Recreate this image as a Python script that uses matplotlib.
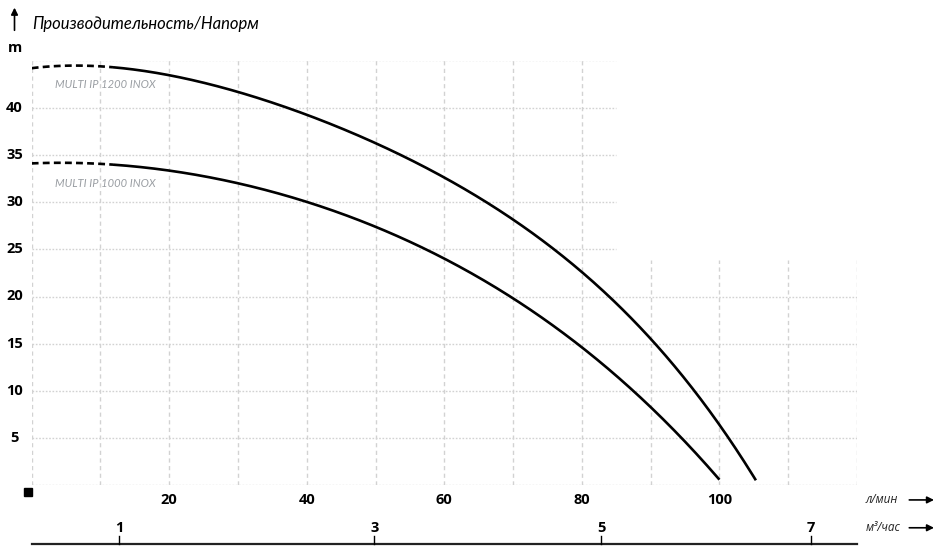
import numpy as np
import matplotlib.pyplot as plt

# flow, l/min  /  head, m
flow_1200 = [0, 10, 20, 30, 40, 50, 60, 70, 80, 90, 100, 105.3]
head_1200 = [44.2, 44.0, 43.4, 41.7, 39.6, 36.4, 32.5, 27.8, 22.3, 15.8, 7.0, 0.5]
flow_1000 = [0, 10, 20, 30, 40, 50, 60, 70, 80, 90, 100]
head_1000 = [34.1, 34.0, 33.4, 32.0, 30.0, 27.4, 23.9, 19.8, 14.9, 8.0, 0.6]
dash_end = 12  # dashed section of each curve ends here

x_ticks = [20, 40, 60, 80, 100]
y_ticks = [5, 10, 15, 20, 25, 30, 35, 40]
m3_labels = ["1", "3", "5", "7"]
m3_pos = [12.7, 49.8, 82.8, 113.3]   # where the m3/h marks sit on the l/min scale

W, H = 946, 554
fig = plt.figure(figsize=(W / 100, H / 100), dpi=100)
x0, x1, y0, y1 = 31.7, 857, 485.3, 60.5
ax = fig.add_axes([x0 / W, 1 - y0 / H, (x1 - x0) / W, (y0 - y1) / H])
ax.set_xlim(0, 120)
ax.set_ylim(0, 45)
ax.axis("off")

grid_c = "#d2d2d2"
# horizontal dotted grid
for y in range(0, 50, 5):
    xe = 120 if y <= 20 else 85
    ax.plot([0, xe], [y, y], color=grid_c, lw=1, ls=(0, (1.2, 1.2)), zorder=1)
# vertical dashed grid
for x in range(0, 130, 10):
    ye = 45 if x <= 80 else 23.9
    ax.plot([x, x], [0, ye], color=grid_c, lw=1, ls=(0, (3, 2.5)), zorder=1)


def draw_curve(fx, hy):
    fx = np.asarray(fx, float)
    w = np.ones_like(fx)
    w[0] = w[-1] = 4  # pin the end points
    xs = np.linspace(fx[0], fx[-1], 500)
    ys = np.polyval(np.polyfit(fx, hy, 4, w=w), xs)
    m = xs <= dash_end
    ax.plot(xs[m], ys[m], color="black", lw=1.9, ls=(0, (2.6, 1.6)), zorder=3)
    s = xs >= dash_end - 0.3
    ax.plot(xs[s], ys[s], color="black", lw=1.9, zorder=3, solid_capstyle="butt")


draw_curve(flow_1200, head_1200)
draw_curve(flow_1000, head_1000)

lab_c = "#9a9ea3"
ax.text(3.4, 42.5, "MULTI IP 1200 INOX", color=lab_c, fontsize=8, style="italic",
        family="Lato", va="center", ha="left")
ax.text(3.4, 32.0, "MULTI IP 1000 INOX", color=lab_c, fontsize=8, style="italic",
        family="Lato", va="center", ha="left")

num_font = dict(fontsize=10.5, fontweight="bold", family="Open Sans", color="black")
for y in y_ticks:
    ax.text(-2.5, y, str(y), ha="center", va="center", clip_on=False, **num_font)
ax.text(-2.4, 46.3, "m", ha="center", va="center", clip_on=False, **num_font)
for x in x_ticks:
    ax.text(x, -1.6, str(x), ha="center", va="center", clip_on=False, **num_font)

# secondary m3/h scale
ax.plot([0, 120], [-6.2, -6.2], color="#222222", lw=1.6, clip_on=False)
for p, s in zip(m3_pos, m3_labels):
    ax.plot([p, p], [-6.2, -5.4], color="black", lw=1, clip_on=False)
    ax.text(p, -4.5, s, ha="center", va="center", clip_on=False, **num_font)

unit_font = dict(fontsize=8.5, style="italic", family="Open Sans", color="#222222")
ax.text(121.2, -1.55, "л/мин", ha="left", va="center", clip_on=False, **unit_font)
ax.text(121.2, -4.5, "м³/час", ha="left", va="center", clip_on=False, **unit_font)
for yy in (-1.55, -4.5):
    ax.annotate("", xy=(131.2, yy), xytext=(127.6, yy), annotation_clip=False,
                arrowprops=dict(arrowstyle="-|>", color="black", lw=1.2,
                                mutation_scale=10, shrinkA=0, shrinkB=0))

# up arrow and title
ax.annotate("", xy=(-2.5, 50.6), xytext=(-2.5, 48.2), annotation_clip=False,
            arrowprops=dict(arrowstyle="-|>", color="black", lw=1.2,
                            mutation_scale=10, shrinkA=0, shrinkB=0))
ax.text(0, 48.9, "Производительность/Напорм", ha="left", va="center",
        fontsize=12, style="italic", family="Lato", color="black",
        clip_on=False)

# small black square at origin
ax.plot([-0.55], [-0.75], marker="s", ms=5.5, color="black", clip_on=False)

fig.savefig("out.png", dpi=100)
